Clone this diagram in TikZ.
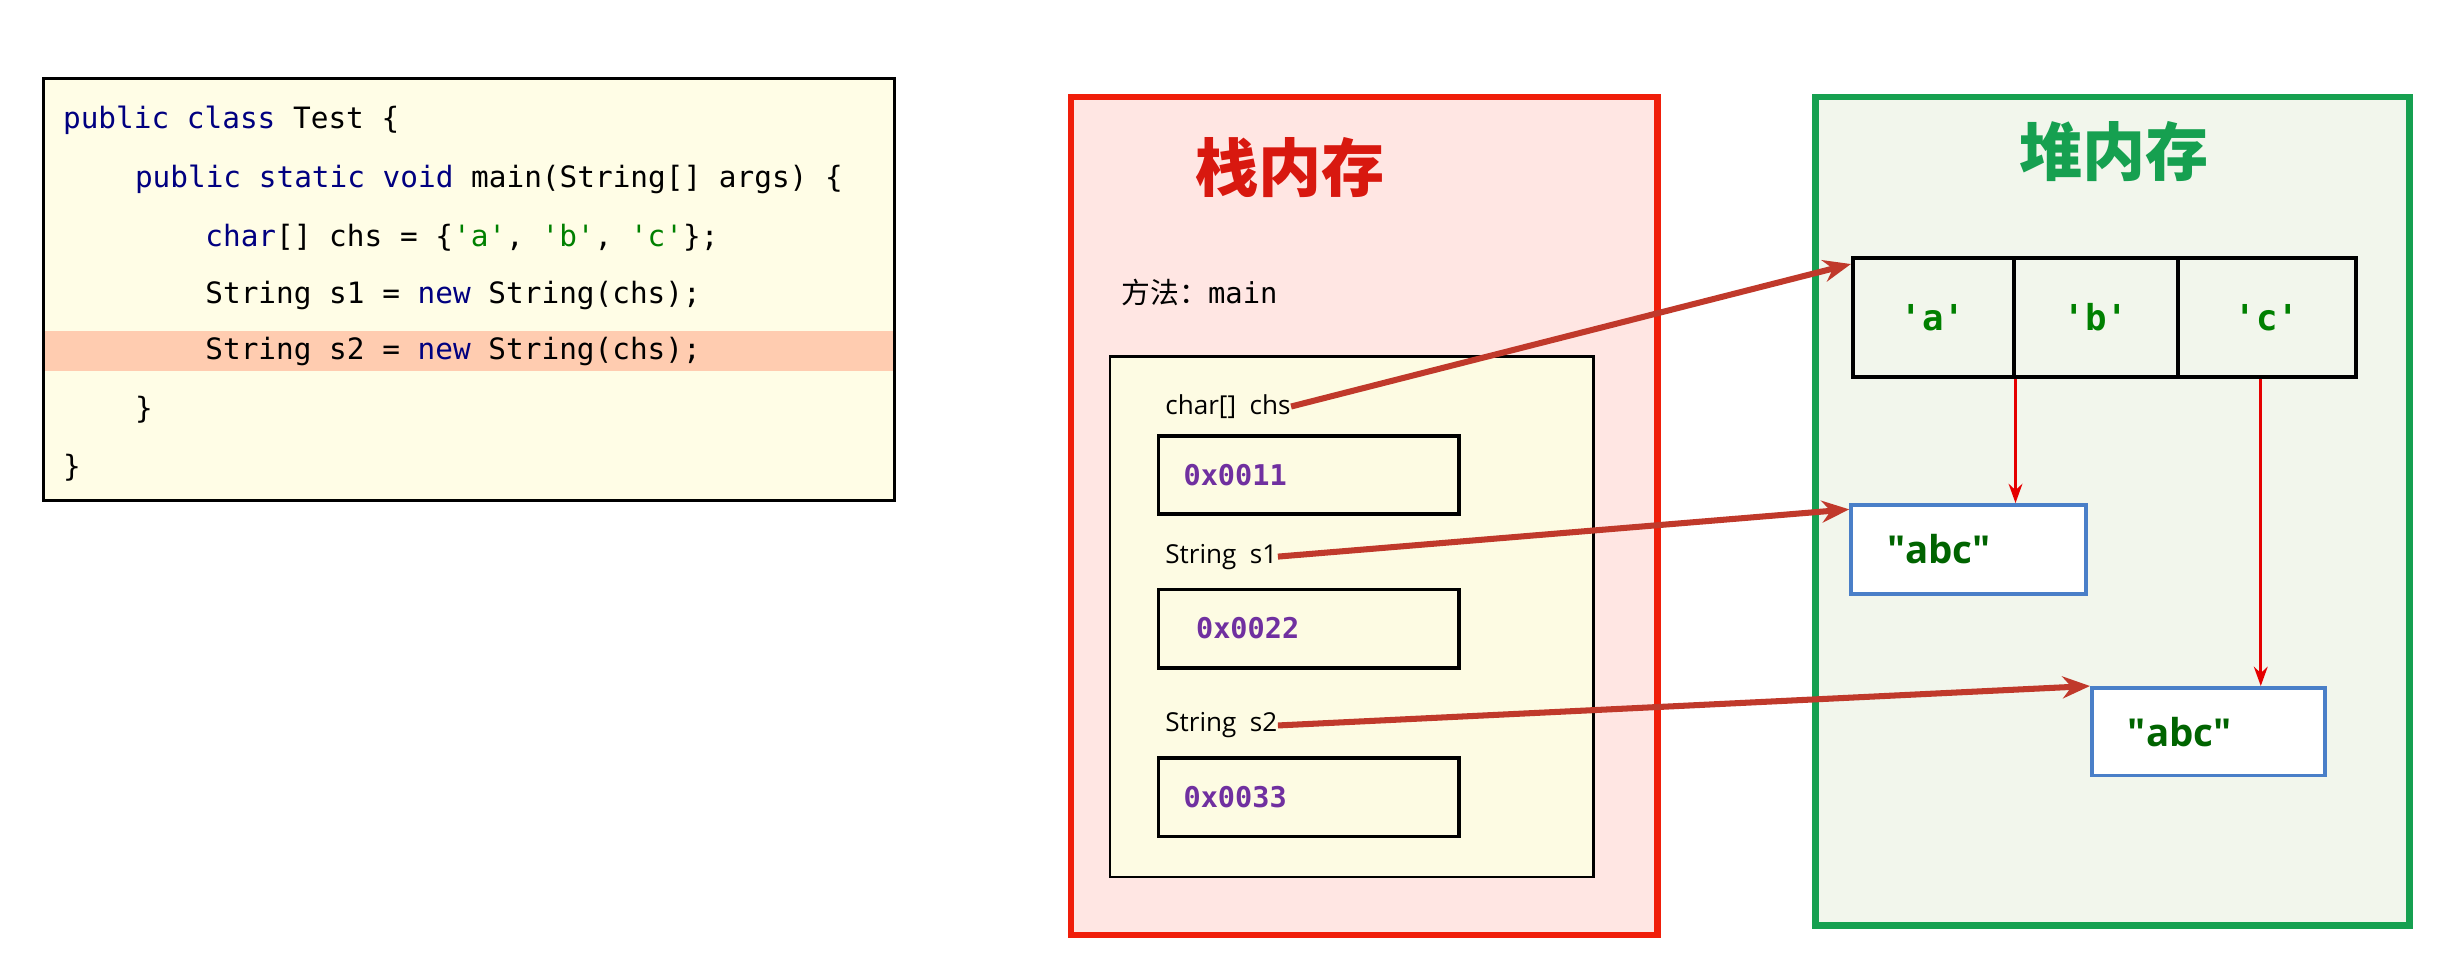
\documentclass[tikz,border=0pt]{standalone}
\usepackage{fontspec}
\setmonofont{DejaVu Sans Mono}
\setsansfont{Open Sans}
\newfontfamily\cjk{Noto Sans CJK SC}
\usetikzlibrary{arrows.meta,positioning}
\definecolor{codebg}{HTML}{FFFDE6}
\definecolor{hilite}{HTML}{FFCCB0}
\definecolor{kw}{HTML}{000080}
\definecolor{str}{HTML}{008000}
\definecolor{stackred}{HTML}{F01E0A}
\definecolor{titlered}{HTML}{D8180F}
\definecolor{stackbg}{HTML}{FFE6E3}
\definecolor{heapgreen}{HTML}{16A050}
\definecolor{heapbg}{HTML}{F2F6EC}
\definecolor{framebg}{HTML}{FDFBE3}
\definecolor{hexcol}{HTML}{7030A0}
\definecolor{abccol}{HTML}{006400}
\definecolor{refline}{HTML}{C0392B}
\definecolor{boxblue}{HTML}{4A7FC8}

\tikzset{
  code/.style={anchor=west,inner sep=0pt,font=\ttfamily\fontsize{10.7}{12}\selectfont},
  slot/.style={draw,line width=1.4pt,minimum width=3.84cm,minimum height=1cm,
    inner xsep=0.32cm,text width=3.2cm,align=left,font=\ttfamily\bfseries\fontsize{10.4}{12}\selectfont,text=hexcol},
  varname/.style={anchor=west,inner sep=0pt,font=\sffamily\fontsize{9.5}{11}\selectfont},
  cell/.style={draw,line width=1.3pt,minimum height=1.52cm,text=str,font=\ttfamily\bfseries\fontsize{13}{15}\selectfont},
  strobj/.style={draw=boxblue,fill=white,line width=1.4pt,inner xsep=0.46cm,align=left,
    text=abccol,font=\sffamily\bfseries\fontsize{14}{16}\selectfont},
  ref/.style={refline,line width=2.2pt,-{Stealth[length=10pt,width=8pt]}},
  link/.style={red!90!black,line width=1.1pt,-{Stealth[length=7pt,width=5pt]}}
}

\begin{document}
\begin{tikzpicture}[x=0.02cm,y=-0.02cm]
  \useasboundingbox (0,0) rectangle (1560,612.7);
  % code
  \node[draw,line width=1pt,fill=codebg,minimum width=10.88cm,minimum height=5.4cm] (src) at (300,185) {};
  \fill[hilite] (29,212) rectangle (571,237);
  \node[code] (l1) at (40,77) {\textcolor{kw}{public class} Test \{};
  \node[code] (l2) at (86,115) {\textcolor{kw}{public static void} main(String[] args) \{};
  \node[code] (l3) at (131,152) {\textcolor{kw}{char}[] chs = \{\textcolor{str}{'a'}, \textcolor{str}{'b'}, \textcolor{str}{'c'}\};};
  \node[code] (l4) at (131,189) {String s1 = \textcolor{kw}{new} String(chs);};
  \node[code] (l5) at (131,225) {String s2 = \textcolor{kw}{new} String(chs);};
  \node[code] (l6) at (86,262) {\}};
  \node[code] (l7) at (40,299) {\}};
  % stack
  \node[draw=stackred,fill=stackbg,line width=2.4pt,minimum width=7.5cm,minimum height=10.72cm] (stack) at (872.5,330) {};
  \node[text=titlered,font=\cjk\bfseries\fontsize{23}{26}\selectfont] (stitle) at (825,107) {栈内存};
  \node[anchor=west,inner sep=0pt,font=\fontsize{10.5}{12}\selectfont] (meth) at (717,187) {{\cjk 方法：}\texttt{main}};
  \node[draw,fill=framebg,line width=1pt,minimum width=6.18cm,minimum height=6.66cm] (frame) at (864.5,394.5) {};
  \node[varname] (chs) at (745,260) {char[]\ \ chs};
  \node[slot] (v1) at (837,304) {0x0011};
  \node[varname] (s1) at (745,356) {String\ \ s1};
  \node[slot] (v2) at (837,402) {\hspace*{0.16cm}0x0022};
  \node[varname] (s2) at (745,464) {String\ \ s2};
  \node[slot] (v3) at (837,510) {0x0033};
  % heap
  \node[draw=heapgreen,fill=heapbg,line width=2.4pt,minimum width=7.6cm,minimum height=10.6cm] (heap) at (1351,327) {};
  \node[text=heapgreen,font=\cjk\bfseries\fontsize{23}{26}\selectfont] (htitle) at (1352,97) {堆内存};
  \node[cell,minimum width=2.06cm] (ca) at (1236.5,203) {'a'};
  \node[cell,minimum width=2.10cm] (cb) at (1340.5,203) {'b'};
  \node[cell,minimum width=2.28cm] (cc) at (1450,203) {'c'};
  \node[strobj,minimum width=3cm,minimum height=1.14cm,text width=2.08cm] (abc1) at (1259,351.5) {\textquotedbl abc\textquotedbl};
  \node[strobj,minimum width=2.98cm,minimum height=1.12cm,text width=2.06cm] (abc2) at (1412.5,468) {\textquotedbl abc\textquotedbl};
  % references
  \draw[ref] (chs.east) -- ([yshift=-0.1cm]ca.north west);
  \draw[ref] (s1.east) -- ([yshift=-0.08cm]abc1.north west);
  \draw[ref] (s2.east) -- (abc2.north west);
  \draw[link] (ca.south east) -- (ca.south east |- abc1.north);
  \draw[link] ([xshift=-0.08cm]cc.south) -- ([xshift=-0.08cm]cc.south |- abc2.north);
\end{tikzpicture}
\end{document}
